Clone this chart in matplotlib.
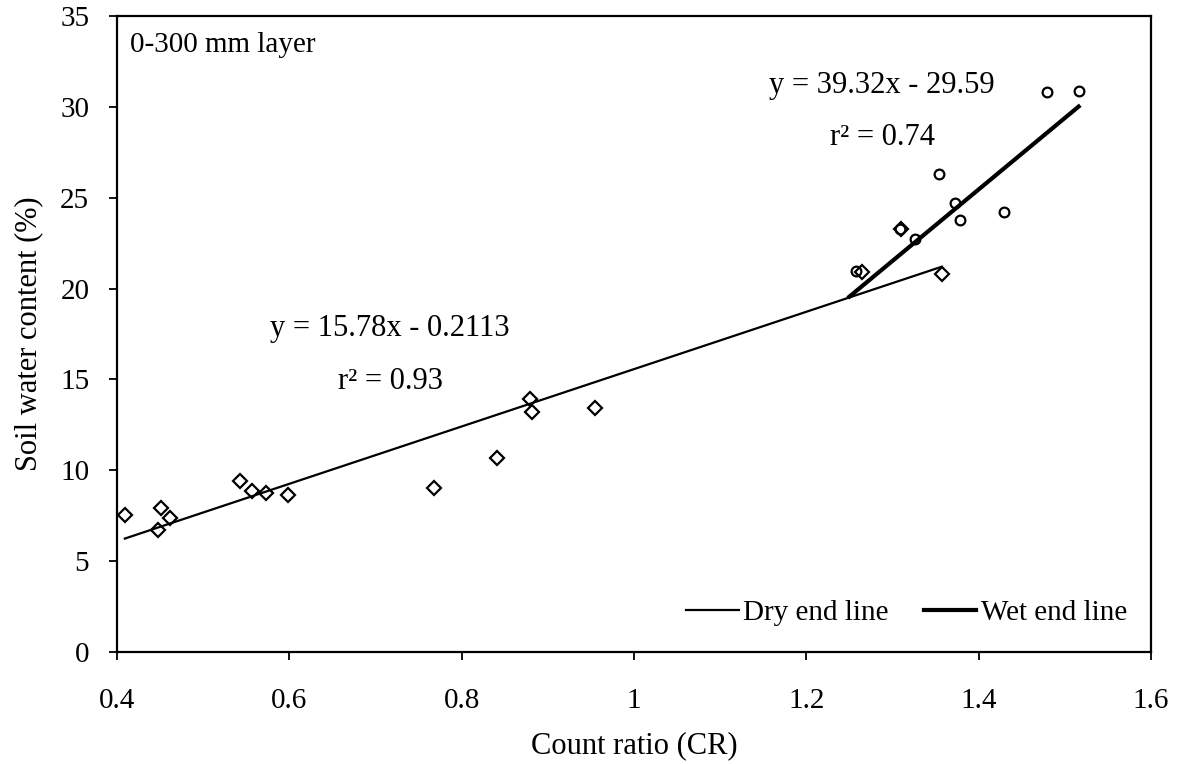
import matplotlib
matplotlib.use('Agg')
import matplotlib.pyplot as plt
import numpy as np

plt.rcParams['font.family'] = ['Liberation Serif', 'DejaVu Serif']

# dry end readings (diamonds)
dry_cr = [0.409, 0.451, 0.461, 0.447, 0.543, 0.557, 0.573, 0.598,
          0.768, 0.841, 0.879, 0.881, 0.955, 1.265, 1.310, 1.357]
dry_swc = [7.55, 7.95, 7.40, 6.70, 9.40, 8.85, 8.75, 8.65,
           9.05, 10.70, 13.90, 13.20, 13.45, 20.90, 23.30, 20.80]

# wet end readings (circles)
wet_cr = [1.258, 1.309, 1.326, 1.354, 1.373, 1.378, 1.429, 1.479, 1.516]
wet_swc = [20.95, 23.30, 22.75, 26.30, 24.70, 23.80, 24.20, 30.80, 30.90]

# fitted lines
dry_fit = (15.78, -0.2113)
wet_fit = (39.32, -29.59)

x_ticks = [0.4, 0.6, 0.8, 1.0, 1.2, 1.4, 1.6]
x_ticklabels = ['0.4', '0.6', '0.8', '1', '1.2', '1.4', '1.6']
y_ticks = [0, 5, 10, 15, 20, 25, 30, 35]

fig = plt.figure(figsize=(11.86, 7.64), dpi=100)
ax = fig.add_axes([0.0987, 0.1466, 0.8718, 0.8324])

ax.plot(dry_cr, dry_swc, linestyle='none', marker='D', ms=7.5,
        mfc='none', mec='black', mew=1.6)
ax.plot(wet_cr, wet_swc, linestyle='none', marker='o', ms=7,
        mfc='none', mec='black', mew=1.6)

xd = np.array([min(dry_cr), max(dry_cr)])
ax.plot(xd, dry_fit[0] * xd + dry_fit[1], color='black', lw=1.6,
        label='Dry end line')
xw = np.array([1.250, max(wet_cr)])
ax.plot(xw, wet_fit[0] * xw + wet_fit[1], color='black', lw=3.0,
        label='Wet end line')

ax.set_xlim(0.4, 1.6)
ax.set_ylim(0, 35)
ax.set_xticks(x_ticks)
ax.set_xticklabels(x_ticklabels)
ax.set_yticks(y_ticks)
ax.tick_params(axis='both', direction='out', length=6, width=1.3,
               labelsize=21, colors='black')
ax.tick_params(axis='x', pad=20)
ax.tick_params(axis='y', pad=14)
for sp in ax.spines.values():
    sp.set_linewidth(1.6)

ax.set_xlabel('Count ratio (CR)', fontsize=22, labelpad=12)
ax.set_ylabel('Soil water content (%)', fontsize=22, labelpad=12)

ax.text(0.013, 0.975, '0-300 mm layer', transform=ax.transAxes,
        fontsize=21, va='top', ha='left')
ax.text(0.717, 17.8, 'y = 15.78x - 0.2113', fontsize=22,
        ha='center', va='center')
ax.text(0.717, 14.9, 'r² = 0.93', fontsize=22, ha='center', va='center')
ax.text(1.288, 31.2, 'y = 39.32x - 29.59', fontsize=22,
        ha='center', va='center')
ax.text(1.288, 28.3, 'r² = 0.74', fontsize=22, ha='center', va='center')

ax.legend(loc='lower right', bbox_to_anchor=(1.002, 0.0), ncol=2,
          frameon=False, fontsize=21, handlelength=1.8, handletextpad=0.15,
          columnspacing=1.2)

fig.savefig('out.png', dpi=100)
